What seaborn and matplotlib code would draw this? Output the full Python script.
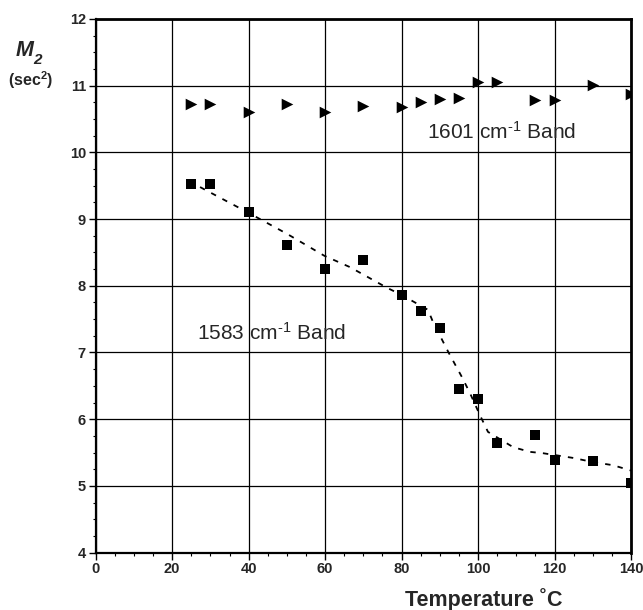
import matplotlib
matplotlib.use("Agg")
import matplotlib.pyplot as plt
import seaborn as sns
import pandas as pd
from matplotlib.ticker import MultipleLocator

# ---- data ----
temperature = [25, 30, 40, 50, 60, 70, 80, 85, 90, 95, 100, 105, 115, 120, 130, 140]
m2_1583 = [9.52, 9.52, 9.10, 8.61, 8.25, 8.38, 7.86, 7.62, 7.36, 6.46, 6.30, 5.65, 5.77, 5.39, 5.37, 5.05]
m2_1601 = [10.73, 10.73, 10.60, 10.73, 10.60, 10.70, 10.68, 10.76, 10.80, 10.81, 11.06, 11.06, 10.78, 10.78, 11.01, 10.88]

# smoothed trend through the 1583 band (dashed curve)
fit_x = [27.3, 40.1, 50.0, 59.8, 66.5, 76.2, 80.1, 86.9, 88.2, 92.2, 95.8, 97.9, 100.5, 102.6, 109.2, 113.6, 117.0, 124.8, 129.8, 135.3, 140.0]
fit_y = [9.48, 9.09, 8.78, 8.45, 8.28, 7.97, 7.86, 7.64, 7.46, 7.01, 6.63, 6.39, 6.06, 5.81, 5.58, 5.51, 5.49, 5.42, 5.36, 5.31, 5.23]

x_ticks = [0, 20, 40, 60, 80, 100, 120, 140]
y_ticks = [4, 5, 6, 7, 8, 9, 10, 11, 12]

sns.set_theme(style="white")
plt.rcParams['font.family'] = ['Liberation Sans', 'DejaVu Sans']
plt.rcParams['mathtext.default'] = 'regular'

fig = plt.figure(figsize=(6.43, 6.10), dpi=100)
ax = fig.add_axes([0.1488, 0.0941, 0.9813 - 0.1488, 0.9689 - 0.0941])

df_a = pd.DataFrame({"T": temperature, "M2": m2_1583})
df_b = pd.DataFrame({"T": temperature, "M2": m2_1601})
df_fit = pd.DataFrame({"T": fit_x, "M2": fit_y})

sns.lineplot(data=df_fit, x="T", y="M2", ax=ax, color="black", lw=1.3,
             dashes=False, linestyle=(0, (3, 4)), zorder=3)
sns.scatterplot(data=df_a, x="T", y="M2", ax=ax, marker="s", s=58,
                color="black", edgecolor="black", linewidth=0, zorder=4)
sns.scatterplot(data=df_b, x="T", y="M2", ax=ax, marker=">", s=70,
                color="black", edgecolor="black", linewidth=0, zorder=4)

ax.set_xlim(0, 140)
ax.set_ylim(4, 12)
ax.set_xticks(x_ticks)
ax.set_yticks(y_ticks)
ax.xaxis.set_minor_locator(MultipleLocator(5))
ax.yaxis.set_minor_locator(MultipleLocator(0.25))
ax.grid(True, which="major", color="black", lw=0.9)
ax.set_axisbelow(True)

for side in ["left", "bottom"]:
    ax.spines[side].set_linewidth(1.6)
for side in ["top", "right"]:
    ax.spines[side].set_linewidth(2.0)
for sp in ax.spines.values():
    sp.set_color("black")
    sp.set_zorder(5)

ax.tick_params(axis="both", which="major", direction="out", length=5, width=1,
               color="black", labelsize=10.5, pad=2, left=True, bottom=True)
ax.tick_params(axis="both", which="minor", direction="out", length=2, width=0.8,
               color="black", left=True, bottom=True)
for lab in ax.get_xticklabels() + ax.get_yticklabels():
    lab.set_fontweight("bold")

ax.set_xlabel("")
ax.set_ylabel("")

fig.text(0.752, 0.018, "Temperature ˚C", fontsize=15.5, fontweight="bold",
         ha="center", va="center")
fig.text(25 / 643, 1 - 50 / 610, "M", fontsize=15.5, fontweight="bold",
         fontstyle="italic", ha="center", va="center")
fig.text(37.5 / 643, 1 - 60 / 610, "2", fontsize=11, fontweight="bold",
         fontstyle="italic", ha="center", va="center")
fig.text(31 / 643, 1 - 80 / 610, "(sec$^{2}$)", fontsize=11.5, fontweight="bold",
         ha="center", va="center")

ax.text(86.6, 10.31, "1601 cm$^{\u20101}$ Band", fontsize=15, ha="left", va="center")
ax.text(26.4, 7.29, "1583 cm$^{\u20101}$ Band", fontsize=15, ha="left", va="center")

fig.savefig("out.png", dpi=100)
